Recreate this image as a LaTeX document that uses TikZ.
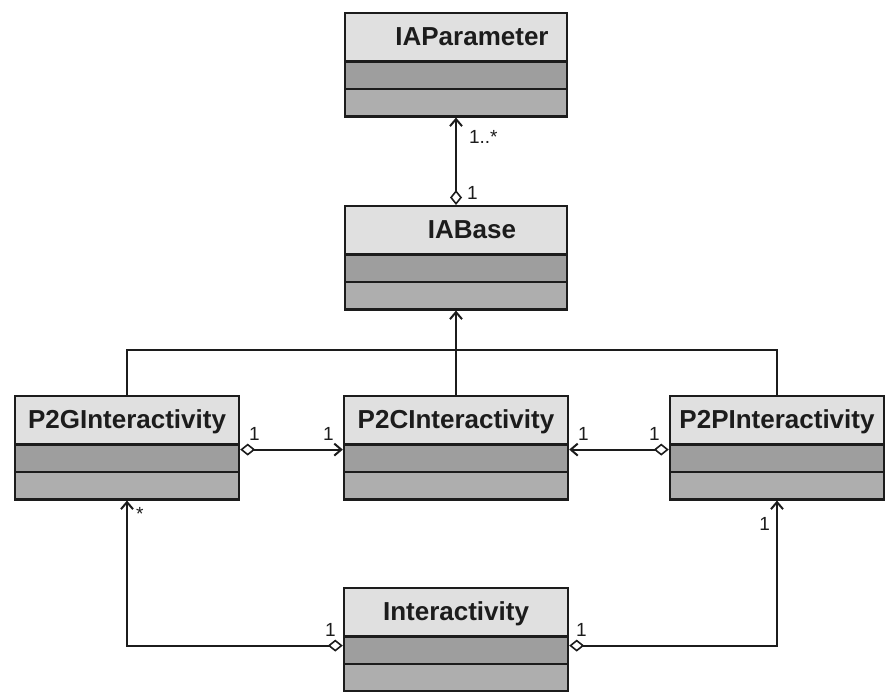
\documentclass[tikz,border=0pt]{standalone}
\usepackage{fontspec}
\setmainfont{Liberation Sans}
\usetikzlibrary{arrows.meta,positioning,shapes.multipart}
\definecolor{ClassHead}{RGB}{224,224,224}
\definecolor{ClassMid}{RGB}{158,158,158}
\definecolor{ClassLow}{RGB}{174,174,174}
\definecolor{ClassInk}{RGB}{28,28,28}
\newcommand\headstrut{\rule[-15pt]{0pt}{46pt}}
\newcommand\rowstrut{\rule{0pt}{25pt}}

\begin{document}
\begin{tikzpicture}[x=1pt,y=-1pt,
        cls/.style={rectangle split,rectangle split parts=3,draw=ClassInk,line width=2.4pt,
          rectangle split part fill={ClassHead,ClassMid,ClassLow},inner xsep=0pt,inner ysep=0pt,
          text width=#1,align=center,anchor=north,text=ClassInk,
          font=\bfseries\fontsize{26}{28}\selectfont},
        mult/.style={font=\fontsize{19}{21}\selectfont,text=ClassInk,inner sep=2pt},
        line/.style={line width=2pt,draw=ClassInk},
        assoc/.style={line,{Diamond[open,length=15pt,width=12pt,line width=1.6pt]}-{Straight Barb[length=7pt,width=12pt]}},
        inh/.style={line,-{Straight Barb[length=7pt,width=12pt]}}
      ]
        \useasboundingbox (0,0) rectangle (887,692);
        \node[cls=222] (par) at (456,12) {\hspace*{32pt}\headstrut IAParameter\nodepart{two}\rowstrut\nodepart{three}\rowstrut};
        \node[cls=222] (base) at (456,205) {\hspace*{32pt}\headstrut IABase\nodepart{two}\rowstrut\nodepart{three}\rowstrut};
        \node[cls=224] (g) at (127,395) {\headstrut P2GInteractivity\nodepart{two}\rowstrut\nodepart{three}\rowstrut};
        \node[cls=224] (c) at (456,395) {\headstrut P2CInteractivity\nodepart{two}\rowstrut\nodepart{three}\rowstrut};
        \node[cls=214] (p) at (777,395) {\headstrut P2PInteractivity\nodepart{two}\rowstrut\nodepart{three}\rowstrut};
        \node[cls=224] (ia) at (456,587) {\headstrut Interactivity\nodepart{two}\rowstrut\nodepart{three}\rowstrut};
        \coordinate (bar) at (456,350);
        % aggregation of the parameters
        \draw[assoc] (base.north) -- (par.south)
          node[mult,pos=0,above right,xshift=8pt,yshift=2pt] {1}
          node[mult,pos=1,below right,xshift=10pt,yshift=-10pt] {1..*};
        % generalisation
        \draw[line] (g.north) -- (g.north |- bar) -- (p.north |- bar) -- (p.north);
        \draw[inh] (c.north) -- (base.south);
        % links between the interactivities
        \draw[assoc] ([yshift=-5pt]g.one split east) -- ([yshift=-5pt]c.one split west)
          node[mult,pos=0,above right,xshift=6pt,yshift=6pt] {1}
          node[mult,pos=1,above left,xshift=-6pt,yshift=6pt] {1};
        \draw[assoc] ([yshift=-5pt]p.one split west) -- ([yshift=-5pt]c.one split east)
          node[mult,pos=0,above left,xshift=-6pt,yshift=6pt] {1}
          node[mult,pos=1,above right,xshift=6pt,yshift=6pt] {1};
        \draw[assoc] ([yshift=-9pt]ia.one split west) -| (g.south)
          node[mult,pos=0,above left,xshift=-4pt,yshift=6pt] {1}
          node[mult,pos=1,below right,xshift=6pt,yshift=-4pt] {*};
        \draw[assoc] ([yshift=-9pt]ia.one split east) -| (p.south)
          node[mult,pos=0,above right,xshift=4pt,yshift=6pt] {1}
          node[mult,pos=1,below left,xshift=-4pt,yshift=-14pt] {1};
      \end{tikzpicture}
\end{document}
